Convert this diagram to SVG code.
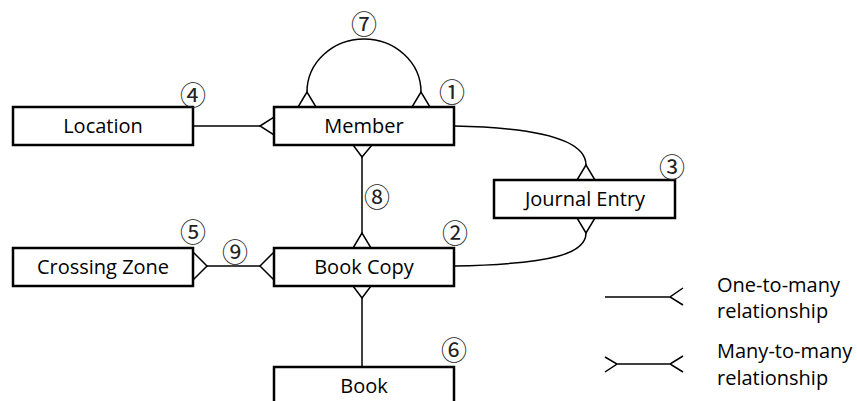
<svg xmlns="http://www.w3.org/2000/svg" width="857" height="401" viewBox="0 0 857 401">
<style>
.box{fill:#fff;stroke:#000;stroke-width:2.5}
.lbl{font-family:"Open Sans","Liberation Sans",sans-serif;font-size:20px;fill:#000;text-anchor:middle}
.leg{font-family:"Open Sans","Liberation Sans",sans-serif;font-size:20px;fill:#000}
.num{font-family:"Noto Sans CJK JP",sans-serif;font-size:26px;fill:#222;text-anchor:middle}
.ln{fill:none;stroke:#000;stroke-width:1.5}
.cf{fill:#fff;stroke:#000;stroke-width:1.5}
</style>
<rect width="857" height="401" fill="#fff"/>
<g id="connectors">
<path class="ln" d="M307,92 A57,53 0 0 1 421,92"/>
<path class="cf" d="M307,92 L298,107 L316,107 Z"/>
<path class="cf" d="M421,92 L412,107 L430,107 Z"/>
<path class="ln" d="M193,126 L260,126"/>
<path class="cf" d="M260,126 L274,117 L274,135 Z"/>
<path class="ln" d="M362,145 L362,248"/>
<path class="cf" d="M353,145 L372,145 L362,157 Z"/>
<path class="cf" d="M362,233 L353,248 L371,248 Z"/>
<path class="ln" d="M454,126 C555,128 586,145 586,165"/>
<path class="cf" d="M586,165 L577,180 L595,180 Z"/>
<path class="ln" d="M586,233 C586,253 555,264 454,266"/>
<path class="cf" d="M586,233 L577,218 L595,218 Z"/>
<path class="ln" d="M207,266 L260,266"/>
<path class="cf" d="M207,266 L193,252 L193,280 Z"/>
<path class="cf" d="M260,266 L274,252 L274,280 Z"/>
<path class="ln" d="M362,286 L362,367"/>
<path class="cf" d="M353,286 L371,286 L362,298 Z"/>
</g>
<g id="member"><rect class="box" x="274" y="107" width="180" height="38"/><text class="lbl" x="364" y="133">Member</text></g>
<g id="location"><rect class="box" x="13" y="107" width="180" height="38"/><text class="lbl" x="103" y="133">Location</text></g>
<g id="journal"><rect class="box" x="494" y="180" width="181" height="38"/><text class="lbl" x="585" y="206">Journal Entry</text></g>
<g id="crossing"><rect class="box" x="13" y="248" width="180" height="38"/><text class="lbl" x="103" y="274">Crossing Zone</text></g>
<g id="bookcopy"><rect class="box" x="274" y="248" width="180" height="38"/><text class="lbl" x="364" y="274">Book Copy</text></g>
<g id="book"><rect class="box" x="274" y="367" width="180" height="40"/><text class="lbl" x="364" y="393">Book</text></g>
<g id="numbers">
<text class="num" x="452" y="102">①</text>
<text class="num" x="455" y="243">②</text>
<text class="num" x="672" y="177">③</text>
<text class="num" x="193" y="105">④</text>
<text class="num" x="193" y="242">⑤</text>
<text class="num" x="454" y="360">⑥</text>
<text class="num" x="364" y="34">⑦</text>
<text class="num" x="377" y="207">⑧</text>
<text class="num" x="235" y="262">⑨</text>
</g>
<g id="legend">
<path class="ln" d="M605,297 L670,297 M683,288 L670,297 L683,305"/>
<path class="ln" d="M605,357 L617,364 L605,372 M617,364 L670,364 M683,356 L670,364 L683,372"/>
<text class="leg" x="717" y="292">One-to-many</text>
<text class="leg" x="717" y="318">relationship</text>
<text class="leg" x="717" y="358">Many-to-many</text>
<text class="leg" x="717" y="385">relationship</text>
</g>
</svg>
